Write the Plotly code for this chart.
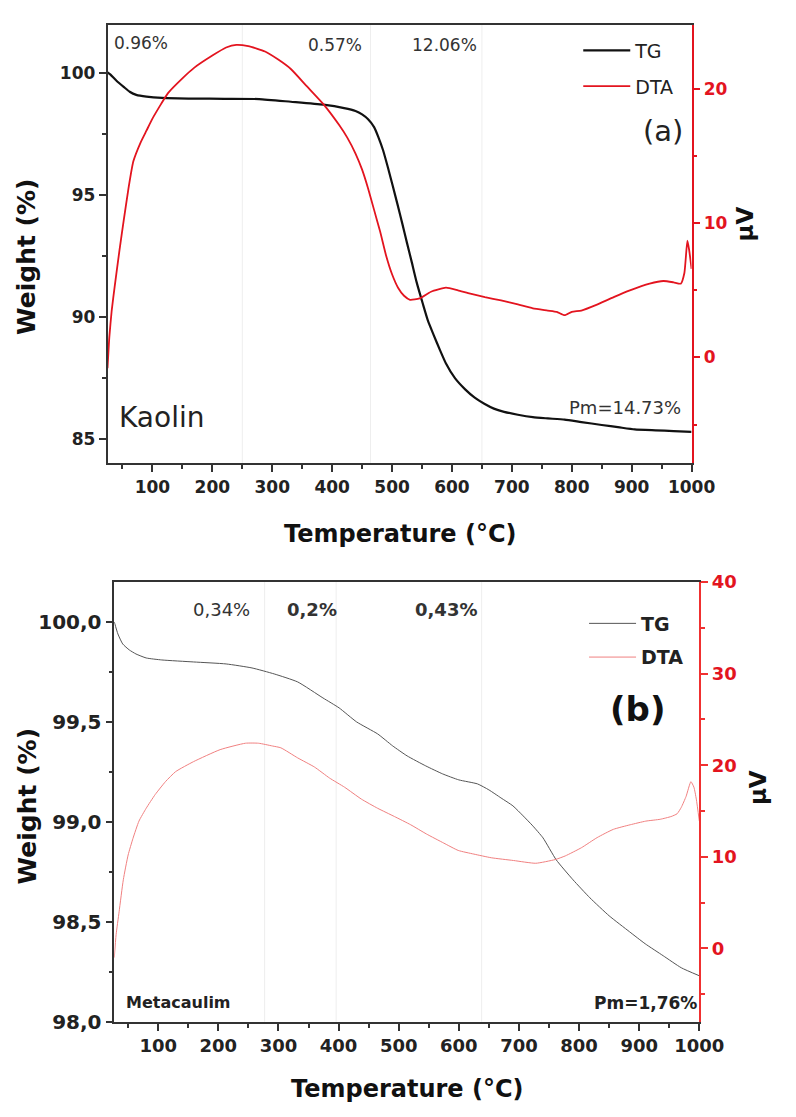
import plotly.graph_objects as go

# ---------------- Data ----------------
# (a) Kaolin - TG
kao_tg_T = [25, 30, 40, 52, 62, 73, 90, 116, 170, 220, 278, 331, 385, 420, 439, 450, 460, 470, 477,
            485, 493, 501, 509, 517, 525, 533, 541, 552, 560, 569, 580, 590, 605, 622, 638, 654, 670,
            687, 710, 735, 760, 788, 816, 850, 880, 905, 940, 970, 1000]
kao_tg_W = [100.05, 99.95, 99.7, 99.45, 99.25, 99.12, 99.05, 99.0, 98.97, 98.96, 98.95, 98.84, 98.72,
            98.58, 98.46, 98.32, 98.12, 97.8, 97.4, 96.85, 96.15, 95.4, 94.64, 93.85, 93.04, 92.25,
            91.44, 90.5, 89.85, 89.3, 88.65, 88.1, 87.5, 87.04, 86.7, 86.45, 86.25, 86.12, 86.0, 85.9,
            85.85, 85.8, 85.7, 85.58, 85.48, 85.4, 85.36, 85.33, 85.3]
# (a) Kaolin - DTA
kao_dta_T = [25, 28, 32, 37, 45, 52, 60, 68, 80, 90, 100, 126, 150, 170, 200, 223, 240, 260, 288, 310,
             331, 358, 385, 412, 425, 439, 450, 460, 470, 480, 490, 500, 510, 520, 530, 546, 565, 590,
             610, 627, 655, 682, 710, 735, 760, 775, 788, 800, 816, 840, 870, 897, 930, 953, 970, 982,
             988, 993, 996, 1000]
kao_dta_V = [-0.8, 1.5, 3.5, 5.3, 8.0, 10.2, 12.6, 14.6, 16.0, 16.9, 17.8, 19.7, 20.8, 21.6, 22.5,
             23.1, 23.3, 23.2, 22.8, 22.2, 21.5, 20.2, 18.9, 17.3, 16.4, 15.2, 14.0, 12.6, 11.0, 9.4,
             7.6, 6.2, 5.2, 4.6, 4.3, 4.4, 4.9, 5.2, 5.0, 4.8, 4.5, 4.25, 3.95, 3.66, 3.5, 3.4, 3.15,
             3.4, 3.5, 3.9, 4.5, 5.0, 5.5, 5.7, 5.6, 5.5, 6.3, 8.7, 8.0, 6.6]

# (b) Metacaulim - TG
meta_tg_T = [27, 33, 41, 52, 63, 80, 106, 159, 213, 256, 293, 332, 374, 401, 430, 465, 490, 514, 545,
             573, 600, 631, 650, 670, 690, 707, 723, 740, 762, 790, 818, 850, 884, 910, 940, 970, 1000]
meta_tg_W = [100.0, 99.94, 99.89, 99.86, 99.84, 99.82, 99.81, 99.80, 99.79, 99.77, 99.74, 99.70,
             99.62, 99.57, 99.50, 99.44, 99.38, 99.33, 99.28, 99.24, 99.21, 99.19, 99.16, 99.12,
             99.08, 99.03, 98.98, 98.92, 98.81, 98.71, 98.62, 98.53, 98.45, 98.39, 98.33, 98.27, 98.23]
# (b) Metacaulim - DTA
meta_dta_T = [27, 30, 35, 42, 50, 58, 68, 80, 95, 112, 129, 159, 203, 245, 267, 290, 304, 332, 360,
              385, 410, 438, 465, 493, 520, 546, 575, 599, 625, 654, 691, 728, 760, 777, 804, 830,
              857, 885, 911, 935, 953, 963, 970, 978, 986, 991, 995, 1000]
meta_dta_V = [-1.0, 1.5, 4.0, 7.5, 10.2, 12.0, 13.9, 15.3, 16.8, 18.2, 19.3, 20.4, 21.7, 22.4, 22.4,
              22.1, 21.9, 20.8, 19.8, 18.6, 17.6, 16.3, 15.3, 14.4, 13.5, 12.5, 11.5, 10.7, 10.3,
              9.9, 9.6, 9.3, 9.7, 10.1, 11.0, 12.1, 13.0, 13.5, 13.9, 14.1, 14.4, 14.7, 15.4, 16.6,
              18.2, 17.6, 16.3, 13.9]

# faint step markers (temperatures)
kao_steps = [250, 464, 650]
meta_steps = [277, 396, 638]

# step mass-loss labels
kao_labels = ["0.96%", "0.57%", "12.06%"]
meta_labels = ["0,34%", "<b>0,2%</b>", "<b>0,43%</b>"]

W, H = 796, 1117
FONT = "DejaVu Sans"


def px(x):
    return x / W


def py(y):
    return 1 - y / H


fig = go.Figure()
fig.add_trace(go.Scatter(x=kao_tg_T, y=kao_tg_W, mode="lines", name="TG", xaxis="x", yaxis="y",
                         line=dict(color="#111111", width=2.2, shape="spline", smoothing=0.5),
                         legend="legend", legendgroup="a1"))
fig.add_trace(go.Scatter(x=kao_dta_T, y=kao_dta_V, mode="lines", name="DTA", xaxis="x", yaxis="y2",
                         line=dict(color="#e3141f", width=1.8, shape="spline", smoothing=0.5),
                         legend="legend", legendgroup="a2"))
fig.add_trace(go.Scatter(x=meta_tg_T, y=meta_tg_W, mode="lines", name="TG", xaxis="x2", yaxis="y3",
                         line=dict(color="#555555", width=1, shape="spline", smoothing=0.5),
                         legend="legend2", legendgroup="b1"))
fig.add_trace(go.Scatter(x=meta_dta_T, y=meta_dta_V, mode="lines", name="DTA", xaxis="x2", yaxis="y4",
                         line=dict(color="#f08080", width=1, shape="spline", smoothing=0.5),
                         legend="legend2", legendgroup="b2"))

shapes = []
for t in kao_steps:
    shapes.append(dict(type="line", xref="x", yref="y domain", x0=t, x1=t, y0=0, y1=1,
                       line=dict(color="#eeeeee", width=1), layer="below"))
for t in meta_steps:
    shapes.append(dict(type="line", xref="x2", yref="y3 domain", x0=t, x1=t, y0=0, y1=1,
                       line=dict(color="#eeeeee", width=1), layer="below"))

axis_common = dict(showline=True, linewidth=1.5, linecolor="#333333", ticks="outside", ticklen=7,
                   tickwidth=1.5, tickcolor="#333333", showgrid=False, zeroline=False)

top_dom_x = [px(111), px(714)]
top_dom_y = [py(462), py(14)]
bot_dom_x = [px(118), px(722)]
bot_dom_y = [py(1032), py(583)]

fig.update_layout(
    width=W, height=H, margin=dict(l=0, r=0, t=0, b=0),
    paper_bgcolor="white", plot_bgcolor="white",
    font=dict(family=FONT, color="#222222"),
    separators=",.",
    shapes=shapes,
    xaxis=dict(axis_common, domain=top_dom_x, anchor="y", range=[25, 1000], dtick=100, tick0=0,
               mirror=True,
               minor=dict(ticks="outside", ticklen=4, dtick=50, tick0=0, tickcolor="#333333"),
               tickfont=dict(size=17, weight="bold", color="#222222")),
    yaxis=dict(axis_common, domain=top_dom_y, anchor="x", range=[84, 102], tickvals=[85, 90, 95, 100],
               minor=dict(ticks="outside", ticklen=4, dtick=2.5, tick0=0, tickcolor="#333333"),
               tickfont=dict(size=17, weight="bold", color="#222222")),
    yaxis2=dict(axis_common, overlaying="y", side="right", anchor="x", range=[-7.9, 24.8],
                tickvals=[0, 10, 20], linecolor="#e3141f", tickcolor="#e3141f",
                minor=dict(ticks="outside", ticklen=4, dtick=5, tick0=0, tickcolor="#e3141f"),
                tickfont=dict(size=17, weight="bold", color="#e3141f")),
    xaxis2=dict(axis_common, domain=bot_dom_x, anchor="y3", range=[27, 1000], dtick=100, tick0=0,
                mirror=True,
                minor=dict(ticks="outside", ticklen=4, dtick=50, tick0=0, tickcolor="#333333"),
                tickfont=dict(size=18, weight="bold", color="#222222")),
    yaxis3=dict(axis_common, domain=bot_dom_y, anchor="x2", range=[98.0, 100.2],
                tickvals=[98.0, 98.5, 99.0, 99.5, 100.0], tickformat=".1f",
                minor=dict(ticks="outside", ticklen=4, dtick=0.25, tick0=0, tickcolor="#333333"),
                tickfont=dict(size=20, weight="bold", color="#222222")),
    yaxis4=dict(axis_common, overlaying="y3", side="right", anchor="x2", range=[-8, 40],
                tickvals=[0, 10, 20, 30, 40], linecolor="#f03030", tickcolor="#f03030",
                minor=dict(ticks="outside", ticklen=4, dtick=5, tick0=0, tickcolor="#f03030"),
                tickfont=dict(size=18, weight="bold", color="#e3141f")),
    legend=dict(x=px(597), y=py(21), xanchor="left", yanchor="top", bgcolor="rgba(0,0,0,0)",
                itemwidth=47,
                font=dict(size=19, color="#222222"), traceorder="grouped", tracegroupgap=8),
    legend2=dict(x=px(603), y=py(606), xanchor="left", yanchor="top", bgcolor="rgba(0,0,0,0)",
                 itemwidth=47,
                 font=dict(size=19, weight="bold", color="#222222"), traceorder="grouped",
                 tracegroupgap=6),
)


def label(text, x, y, size, color="#222222", angle=0):
    return dict(text=text, x=px(x), y=py(y), xref="paper", yref="paper", showarrow=False,
                xanchor="center", yanchor="middle", textangle=angle,
                font=dict(size=size, color=color))


ann = []
# axis titles
ann.append(label("<b>Weight (%)</b>", 28, 251, 25, "#111111", -90))
ann.append(label("<b>μV</b>", 769, 217, 23, "#111111", -90))
ann.append(label("<b>Temperature (°C)</b>", 414, 534, 24, "#111111"))
ann.append(label("<b>Weight (%)</b>", 28, 812, 25, "#111111", -90))
ann.append(label("<b>μV</b>", 782, 793, 23, "#111111", -90))
ann.append(label("<b>Temperature (°C)</b>", 421, 1101, 24, "#111111"))
# top panel labels
for txt, x in zip(kao_labels, [146, 346, 459]):
    ann.append(label(txt, x, 33 if x < 200 else 35, 17, "#333333"))
ann.append(label("(a)", 684, 123, 29))
ann.append(label("Kaolin", 167, 415, 28))
ann.append(label("Pm=14.73%", 645, 405, 18, "#333333"))
# bottom panel labels
for txt, x in zip(meta_labels, [229, 322, 460]):
    ann.append(label(txt, x, 611, 18, "#333333"))
ann.append(label("<b>(b)</b>", 658, 713, 34, "#111111"))
ann.append(label("<b>Metacaulim</b>", 184, 1012, 16))
ann.append(label("<b>Pm=1,76%</b>", 666, 1013, 17))
fig.update_layout(annotations=ann)

fig.write_html("out.html")
